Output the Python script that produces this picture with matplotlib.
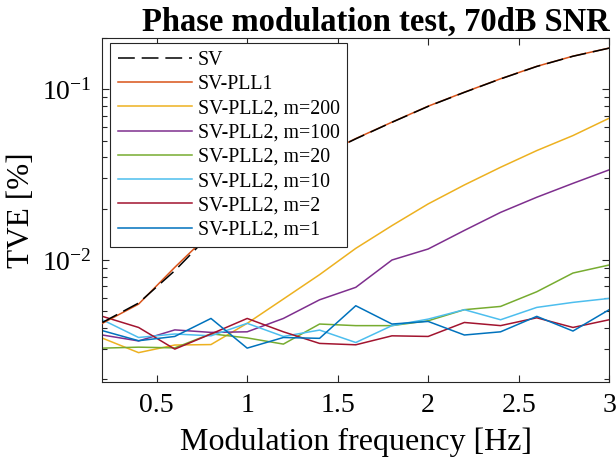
import numpy as np
import matplotlib
matplotlib.use('Agg')
import matplotlib.pyplot as plt

plt.rcParams['font.family'] = ['Liberation Serif', 'DejaVu Serif']
plt.rcParams['mathtext.fontset'] = 'custom'
plt.rcParams['mathtext.rm'] = 'Liberation Serif'
plt.rcParams['mathtext.it'] = 'Liberation Serif:italic'
plt.rcParams['mathtext.bf'] = 'Liberation Serif:bold'

# modulation frequency [Hz]
freq = [0.2, 0.4, 0.6, 0.8, 1.0, 1.2, 1.4, 1.6, 1.8, 2.0, 2.2, 2.4, 2.6, 2.8, 3.0]

# TVE [%]
sv = [4.31e-3, 5.60e-3, 8.66e-3, 1.43e-2, 2.18e-2, 3.06e-2, 4.04e-2, 5.12e-2,
      6.40e-2, 7.93e-2, 9.58e-2, 0.1148, 0.1358, 0.1558, 0.1738]
sv_pll1 = [4.26e-3, 5.52e-3, 9.06e-3, 1.45e-2, 2.20e-2, 3.07e-2, 4.05e-2, 5.14e-2,
           6.41e-2, 7.95e-2, 9.60e-2, 0.115, 0.136, 0.156, 0.174]
pll2_m200 = [3.49e-3, 2.87e-3, 3.18e-3, 3.20e-3, 4.26e-3, 5.91e-3, 8.21e-3, 1.17e-2,
             1.59e-2, 2.13e-2, 2.75e-2, 3.49e-2, 4.37e-2, 5.35e-2, 6.76e-2]
pll2_m100 = [3.64e-3, 3.36e-3, 3.90e-3, 3.77e-3, 3.80e-3, 4.55e-3, 5.85e-3, 6.92e-3,
             1.00e-2, 1.16e-2, 1.49e-2, 1.90e-2, 2.33e-2, 2.81e-2, 3.37e-2]
pll2_m20 = [3.05e-3, 3.09e-3, 3.06e-3, 3.70e-3, 3.50e-3, 3.22e-3, 4.22e-3, 4.13e-3,
            4.13e-3, 4.41e-3, 5.12e-3, 5.35e-3, 6.52e-3, 8.39e-3, 9.35e-3]
pll2_m10 = [4.47e-3, 3.52e-3, 3.69e-3, 3.60e-3, 4.26e-3, 3.57e-3, 3.89e-3, 3.29e-3,
            4.13e-3, 4.51e-3, 5.12e-3, 4.47e-3, 5.28e-3, 5.65e-3, 5.96e-3]
pll2_m2 = [4.68e-3, 4.03e-3, 3.01e-3, 3.69e-3, 4.55e-3, 3.80e-3, 3.25e-3, 3.19e-3,
           3.60e-3, 3.57e-3, 4.31e-3, 4.13e-3, 4.59e-3, 4.03e-3, 4.47e-3]
pll2_m1 = [3.86e-3, 3.37e-3, 3.57e-3, 4.55e-3, 3.05e-3, 3.52e-3, 3.48e-3, 5.40e-3,
           4.22e-3, 4.37e-3, 3.64e-3, 3.80e-3, 4.68e-3, 3.84e-3, 5.12e-3]

labels = ['SV', 'SV-PLL1', 'SV-PLL2, m=200', 'SV-PLL2, m=100', 'SV-PLL2, m=20',
          'SV-PLL2, m=10', 'SV-PLL2, m=2', 'SV-PLL2, m=1']

fig = plt.figure(figsize=(6.16, 4.68), dpi=100)
ax = fig.add_axes([0.1662, 0.1844, 0.8227, 0.7350])

ln_sv, = ax.plot(freq, sv, color='k', lw=1.1, dashes=(11, 4.5), zorder=5)
ln_p1, = ax.plot(freq, sv_pll1, color='#D95319', lw=1.1, zorder=4)
ln_200, = ax.plot(freq, pll2_m200, color='#EDB120', lw=1.1)
ln_100, = ax.plot(freq, pll2_m100, color='#7E2F8E', lw=1.1)
ln_20, = ax.plot(freq, pll2_m20, color='#77AC30', lw=1.1)
ln_10, = ax.plot(freq, pll2_m10, color='#4DBEEE', lw=1.1)
ln_2, = ax.plot(freq, pll2_m2, color='#A2142F', lw=1.1)
ln_1, = ax.plot(freq, pll2_m1, color='#0072BD', lw=1.1)

ax.set_yscale('log')
ax.set_xlim(0.2, 3)
ax.set_ylim(1.94e-3, 0.2)
ax.set_xticks([0.5, 1, 1.5, 2, 2.5, 3])
ax.set_xticklabels(['0.5', '1', '1.5', '2', '2.5', '3'])
ax.tick_params(which='both', direction='in', top=True, right=True, labelsize=20,
               color='#262626', width=0.8)
ax.tick_params(which='major', length=5, pad=8)
ax.tick_params(which='minor', length=3.5)
ax.tick_params(axis='x', which='minor', bottom=False, top=False)
for s in ax.spines.values():
    s.set_color('#262626')
    s.set_linewidth(0.8)

ax.set_xlabel('Modulation frequency [Hz]', fontsize=23, labelpad=7)
ax.set_ylabel('TVE [%]', fontsize=22.5, labelpad=4)
ax.set_title('Phase modulation test, 70dB SNR', fontsize=23.5, fontweight='bold',
             pad=5, x=0.539)

leg = ax.legend([ln_sv, ln_p1, ln_200, ln_100, ln_20, ln_10, ln_2, ln_1], labels,
                loc='upper left', bbox_to_anchor=(0.015, 0.984), borderaxespad=0,
                fontsize=14.3, handlelength=3.75, handletextpad=0.28, labelspacing=0.265,
                borderpad=0.38, fancybox=False, framealpha=1, edgecolor='#262626')
leg.get_frame().set_linewidth(0.8)
leg.set_zorder(10)

plt.savefig('out.png', dpi=100)
